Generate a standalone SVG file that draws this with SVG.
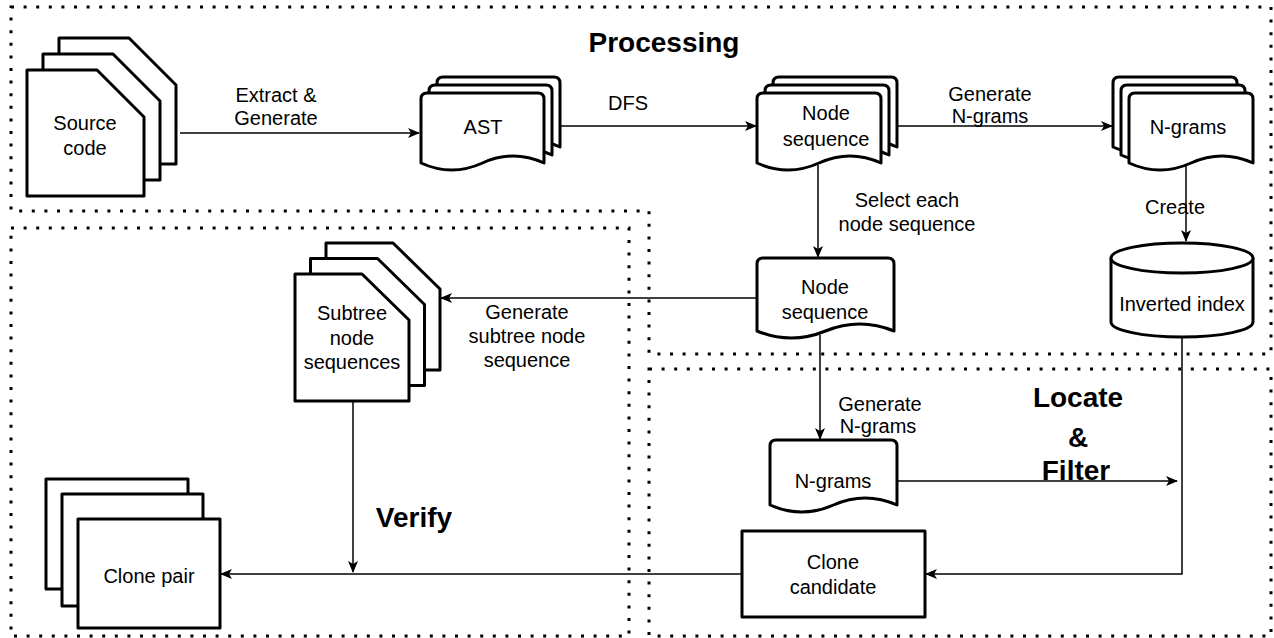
<svg xmlns="http://www.w3.org/2000/svg" width="1274" height="638" viewBox="0 0 1274 638">
<style>
.reg{fill:none;stroke:#000;stroke-width:3;stroke-dasharray:3 9.6}
.sh{fill:#fff;stroke:#000;stroke-width:3;stroke-linejoin:round}
.ed{fill:none;stroke:#000;stroke-width:1.5}
.t{font-family:"Liberation Sans",Arial,sans-serif;font-size:20px;fill:#000;text-anchor:middle}
.b{font-family:"Liberation Sans",Arial,sans-serif;font-size:28px;font-weight:bold;fill:#000;text-anchor:middle}
</style>
<defs>
<marker id="arr" viewBox="0 0 12 10" refX="11" refY="5" markerWidth="12" markerHeight="10" markerUnits="userSpaceOnUse" orient="auto">
<path d="M0,0 L12,5 L0,10 L3,5 Z" fill="#000"/>
</marker>
</defs>
<rect width="1274" height="638" fill="#fff"/>
<g id="regions">
<path class="reg" d="M11,7 H1271 V354 H649 V211 H11 Z"/>
<rect class="reg" x="11" y="228" width="618" height="408"/>
<rect class="reg" x="649" y="369" width="622" height="267"/>
<text class="b" x="664" y="52">Processing</text>
<text class="b" x="414" y="527">Verify</text>
<text class="b" x="1078" y="407">Locate</text>
<text class="b" x="1078" y="447">&amp;</text>
<text class="b" x="1076" y="480">Filter</text>
</g>
<g id="connectors">
<path class="ed" d="M180,133 H419" marker-end="url(#arr)"/>
<path class="ed" d="M560,126 H756" marker-end="url(#arr)"/>
<path class="ed" d="M897,126 H1112" marker-end="url(#arr)"/>
<path class="ed" d="M1186,165 V241" marker-end="url(#arr)"/>
<path class="ed" d="M818,165 V257" marker-end="url(#arr)"/>
<path class="ed" d="M757,298 H441" marker-end="url(#arr)"/>
<path class="ed" d="M820,335 V439" marker-end="url(#arr)"/>
<path class="ed" d="M353,401 V572" marker-end="url(#arr)"/>
<path class="ed" d="M742,574 H221" marker-end="url(#arr)"/>
<path class="ed" d="M897,481 H1177" marker-end="url(#arr)"/>
<path class="ed" d="M1182,337 V574 H926" marker-end="url(#arr)"/>
<text class="t" x="276" y="102">Extract &amp;</text>
<text class="t" x="276" y="125">Generate</text>
<text class="t" x="628" y="110">DFS</text>
<text class="t" x="990" y="101">Generate</text>
<text class="t" x="990" y="123">N-grams</text>
<text class="t" x="907" y="207">Select each</text>
<text class="t" x="907" y="231">node sequence</text>
<text class="t" x="1175" y="214">Create</text>
<text class="t" x="527" y="319">Generate</text>
<text class="t" x="527" y="343">subtree node</text>
<text class="t" x="527" y="367">sequence</text>
<text class="t" x="880" y="411">Generate</text>
<text class="t" x="878" y="433">N-grams</text>
</g>
<g id="source-code">
<path class="sh" d="M59,38 H129 L176,85 V164 H59 Z"/>
<path class="sh" d="M43,54 H113 L160,101 V180 H43 Z"/>
<path class="sh" d="M27,70 H97 L144,117 V196 H27 Z"/>
<text class="t" x="85" y="130">Source</text>
<text class="t" x="85" y="155">code</text>
</g>
<g id="ast">
<path class="sh" d="M437,83 Q437,77 443,77 H554 Q560,77 560,83 V147 Q529.25,133 498.5,147 T437,147 Z"/>
<path class="sh" d="M429,91 Q429,85 435,85 H546 Q552,85 552,91 V155 Q521.25,141 490.5,155 T429,155 Z"/>
<path class="sh" d="M421,99 Q421,93 427,93 H538 Q544,93 544,99 V163 Q513.25,149 482.5,163 T421,163 Z"/>
<text class="t" x="483" y="134">AST</text>
</g>
<g id="node-sequence-1">
<path class="sh" d="M773,83 Q773,77 779,77 H891 Q897,77 897,83 V147 Q866,133 835,147 T773,147 Z"/>
<path class="sh" d="M765,91 Q765,85 771,85 H883 Q889,85 889,91 V155 Q858,141 827,155 T765,155 Z"/>
<path class="sh" d="M757,99 Q757,93 763,93 H875 Q881,93 881,99 V163 Q850,149 819,163 T757,163 Z"/>
<text class="t" x="826" y="120">Node</text>
<text class="t" x="826" y="146">sequence</text>
</g>
<g id="ngrams-1">
<path class="sh" d="M1113,83 Q1113,77 1119,77 H1231 Q1237,77 1237,83 V147 Q1206,133 1175,147 T1113,147 Z"/>
<path class="sh" d="M1121,91 Q1121,85 1127,85 H1239 Q1245,85 1245,91 V155 Q1214,141 1183,155 T1121,155 Z"/>
<path class="sh" d="M1129,99 Q1129,93 1135,93 H1247 Q1253,93 1253,99 V163 Q1222,149 1191,163 T1129,163 Z"/>
<text class="t" x="1188" y="134">N-grams</text>
</g>
<g id="inverted-index">
<path class="sh" d="M1111,258 A71,15 0 0 1 1253,258 V322 A71,15 0 0 1 1111,322 Z"/>
<path class="sh" fill="none" d="M1111,258 A71,15 0 0 0 1253,258"/>
<text class="t" x="1182" y="311">Inverted index</text>
</g>
<g id="node-sequence-2">
<path class="sh" d="M757,264 Q757,258 763,258 H888 Q894,258 894,264 V331 Q859.75,317 825.5,331 T757,331 Z"/>
<text class="t" x="825" y="294">Node</text>
<text class="t" x="825" y="319">sequence</text>
</g>
<g id="subtree">
<path class="sh" d="M326,243 H393 L440,289 V370 H326 Z"/>
<path class="sh" d="M310.5,258.5 H377.5 L424.5,304.5 V385.5 H310.5 Z"/>
<path class="sh" d="M295,274 H362 L409,320 V401 H295 Z"/>
<text class="t" x="352" y="320">Subtree</text>
<text class="t" x="352" y="345">node</text>
<text class="t" x="352" y="369">sequences</text>
</g>
<g id="ngrams-2">
<path class="sh" d="M770,446 Q770,440 776,440 H891 Q897,440 897,446 V505 Q865.25,491 833.5,505 T770,505 Z"/>
<text class="t" x="833" y="488">N-grams</text>
</g>
<g id="clone-candidate">
<rect class="sh" x="742" y="531" width="183" height="86"/>
<text class="t" x="833" y="569">Clone</text>
<text class="t" x="833" y="594">candidate</text>
</g>
<g id="clone-pair">
<rect class="sh" x="46" y="479" width="142" height="110"/>
<rect class="sh" x="62" y="494" width="141" height="112"/>
<rect class="sh" x="78" y="519" width="142" height="109"/>
<text class="t" x="149" y="583">Clone pair</text>
</g>
</svg>
